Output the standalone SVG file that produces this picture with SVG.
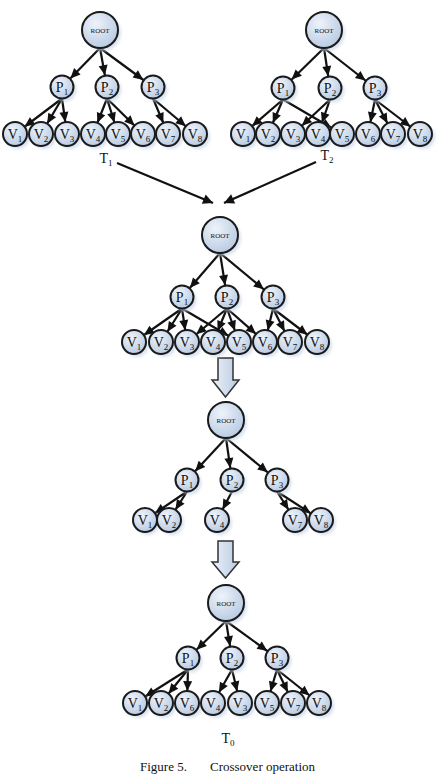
<svg xmlns="http://www.w3.org/2000/svg" width="438" height="778" viewBox="0 0 438 778">
<defs>
<radialGradient id="gn" cx="38%" cy="32%" r="75%">
<stop offset="0" stop-color="#EEF3FA"/>
<stop offset="1" stop-color="#B5C8E1"/>
</radialGradient>
<linearGradient id="ga" x1="0" y1="0" x2="1" y2="0">
<stop offset="0" stop-color="#EDF2F9"/>
<stop offset="1" stop-color="#B7CAE2"/>
</linearGradient>
<filter id="blur" x="-50%" y="-50%" width="200%" height="200%">
<feGaussianBlur stdDeviation="1.5"/>
</filter>
<marker id="ah" markerUnits="userSpaceOnUse" viewBox="-11 -5 25 10" markerWidth="25" markerHeight="10" refX="12" refY="0" orient="auto" overflow="visible">
<path d="M-10,-4.5 L0,0 L-10,4.5 z" fill="#111"/>
</marker>
<marker id="ah0" markerUnits="userSpaceOnUse" viewBox="-11 -5 12 10" markerWidth="12" markerHeight="10" refX="0" refY="0" orient="auto" overflow="visible">
<path d="M-10,-5 L0,0 L-10,5 z" fill="#111"/>
</marker>
</defs>
<style>
.e line{stroke:#111;stroke-width:2.2;marker-end:url(#ah)}
.d line{stroke:#111;stroke-width:2.2;marker-end:url(#ah0)}
.sh{fill:#C9D7EA;opacity:0.7;filter:url(#blur)}
.nd{fill:url(#gn);stroke:#1a1a1a;stroke-width:2}
.rt{font-family:"Liberation Serif",serif;font-size:7px;fill:#111;text-anchor:middle}
.lb{font-family:"Liberation Serif",serif;font-size:14px;fill:#111;text-anchor:middle}
.s{font-size:9px}
.cap{font-family:"Liberation Serif",serif;font-size:13px;fill:#111}
.ba{fill:url(#ga);stroke:#333;stroke-width:1.5;stroke-linejoin:miter}
</style>
<rect width="438" height="778" fill="#fff"/>

<g id="connectors">
<g class="e">
<line x1="100" y1="48" x2="62" y2="87"/>
<line x1="100" y1="48" x2="107" y2="87"/>
<line x1="100" y1="48" x2="153" y2="87"/>
<line x1="62" y1="98.5" x2="15" y2="134"/>
<line x1="62" y1="98.5" x2="41" y2="134"/>
<line x1="62" y1="98.5" x2="67" y2="134"/>
<line x1="107" y1="98.5" x2="93" y2="134"/>
<line x1="107" y1="98.5" x2="118" y2="134"/>
<line x1="107" y1="98.5" x2="143" y2="134"/>
<line x1="153" y1="98.5" x2="168" y2="134"/>
<line x1="153" y1="98.5" x2="195" y2="134"/>
<line x1="324" y1="48" x2="283" y2="88"/>
<line x1="324" y1="48" x2="330" y2="88"/>
<line x1="324" y1="48" x2="375" y2="88"/>
<line x1="283" y1="99.5" x2="243" y2="134"/>
<line x1="283" y1="99.5" x2="268" y2="134"/>
<line x1="283" y1="99.5" x2="342" y2="134"/>
<line x1="330" y1="99.5" x2="293" y2="134"/>
<line x1="330" y1="99.5" x2="318" y2="134"/>
<line x1="375" y1="99.5" x2="368" y2="134"/>
<line x1="375" y1="99.5" x2="393" y2="134"/>
<line x1="375" y1="99.5" x2="420" y2="134"/>
<line x1="220" y1="253" x2="182" y2="297"/>
<line x1="220" y1="253" x2="227" y2="297"/>
<line x1="220" y1="253" x2="273" y2="297"/>
<line x1="182" y1="308.5" x2="134" y2="342"/>
<line x1="182" y1="308.5" x2="161" y2="342"/>
<line x1="182" y1="308.5" x2="187" y2="342"/>
<line x1="182" y1="308.5" x2="239" y2="342"/>
<line x1="227" y1="308.5" x2="187" y2="342"/>
<line x1="227" y1="308.5" x2="213" y2="342"/>
<line x1="227" y1="308.5" x2="239" y2="342"/>
<line x1="227" y1="308.5" x2="265" y2="342"/>
<line x1="273" y1="308.5" x2="265" y2="342"/>
<line x1="273" y1="308.5" x2="290" y2="342"/>
<line x1="273" y1="308.5" x2="317" y2="342"/>
<line x1="226" y1="438" x2="187" y2="480"/>
<line x1="226" y1="438" x2="232" y2="480"/>
<line x1="226" y1="438" x2="277" y2="480"/>
<line x1="187" y1="491.5" x2="145" y2="520"/>
<line x1="187" y1="491.5" x2="169" y2="520"/>
<line x1="232" y1="491.5" x2="217" y2="520"/>
<line x1="277" y1="491.5" x2="295" y2="520"/>
<line x1="277" y1="491.5" x2="321" y2="520"/>
<line x1="226" y1="621" x2="188" y2="658"/>
<line x1="226" y1="621" x2="232" y2="658"/>
<line x1="226" y1="621" x2="277" y2="658"/>
<line x1="188" y1="669.5" x2="135" y2="703"/>
<line x1="188" y1="669.5" x2="161" y2="703"/>
<line x1="188" y1="669.5" x2="187" y2="703"/>
<line x1="232" y1="669.5" x2="213" y2="703"/>
<line x1="232" y1="669.5" x2="240" y2="703"/>
<line x1="277" y1="669.5" x2="267" y2="703"/>
<line x1="277" y1="669.5" x2="293" y2="703"/>
<line x1="277" y1="669.5" x2="319" y2="703"/>
</g>
<g class="d">
<line x1="117" y1="163" x2="213" y2="203"/>
<line x1="316" y1="162" x2="224" y2="203"/>
</g>
<polygon class="ba" points="218,358 233,358 233,380 239,380 225.5,397 212,380 218,380"/>
<polygon class="ba" points="218,541 233,541 233,562 239,562 225.5,578 212,562 218,562"/>
</g>

<g id="t1-root"><circle class="sh" cx="103" cy="33" r="18"/><circle class="nd" cx="100" cy="30" r="18"/><text class="rt" x="100" y="32.5">ROOT</text></g>
<g id="t1-p1"><circle class="sh" cx="65" cy="90" r="11.5"/><circle class="nd" cx="62" cy="87" r="11.5"/><text class="lb" x="62" y="91.5">P<tspan class="s" dy="3">1</tspan></text></g>
<g id="t1-p2"><circle class="sh" cx="110" cy="90" r="11.5"/><circle class="nd" cx="107" cy="87" r="11.5"/><text class="lb" x="107" y="91.5">P<tspan class="s" dy="3">2</tspan></text></g>
<g id="t1-p3"><circle class="sh" cx="156" cy="90" r="11.5"/><circle class="nd" cx="153" cy="87" r="11.5"/><text class="lb" x="153" y="91.5">P<tspan class="s" dy="3">3</tspan></text></g>
<g id="t1-v1"><circle class="sh" cx="18" cy="137" r="12"/><circle class="nd" cx="15" cy="134" r="12"/><text class="lb" x="15" y="138.5">V<tspan class="s" dy="3">1</tspan></text></g>
<g id="t1-v2"><circle class="sh" cx="44" cy="137" r="12"/><circle class="nd" cx="41" cy="134" r="12"/><text class="lb" x="41" y="138.5">V<tspan class="s" dy="3">2</tspan></text></g>
<g id="t1-v3"><circle class="sh" cx="70" cy="137" r="12"/><circle class="nd" cx="67" cy="134" r="12"/><text class="lb" x="67" y="138.5">V<tspan class="s" dy="3">3</tspan></text></g>
<g id="t1-v4"><circle class="sh" cx="96" cy="137" r="12"/><circle class="nd" cx="93" cy="134" r="12"/><text class="lb" x="93" y="138.5">V<tspan class="s" dy="3">4</tspan></text></g>
<g id="t1-v5"><circle class="sh" cx="121" cy="137" r="12"/><circle class="nd" cx="118" cy="134" r="12"/><text class="lb" x="118" y="138.5">V<tspan class="s" dy="3">5</tspan></text></g>
<g id="t1-v6"><circle class="sh" cx="146" cy="137" r="12"/><circle class="nd" cx="143" cy="134" r="12"/><text class="lb" x="143" y="138.5">V<tspan class="s" dy="3">6</tspan></text></g>
<g id="t1-v7"><circle class="sh" cx="171" cy="137" r="12"/><circle class="nd" cx="168" cy="134" r="12"/><text class="lb" x="168" y="138.5">V<tspan class="s" dy="3">7</tspan></text></g>
<g id="t1-v8"><circle class="sh" cx="198" cy="137" r="12"/><circle class="nd" cx="195" cy="134" r="12"/><text class="lb" x="195" y="138.5">V<tspan class="s" dy="3">8</tspan></text></g>
<g id="t1-label"><text class="lb" x="106" y="163">T<tspan class="s" dy="3">1</tspan></text></g>

<g id="t2-root"><circle class="sh" cx="327" cy="33" r="18"/><circle class="nd" cx="324" cy="30" r="18"/><text class="rt" x="324" y="32.5">ROOT</text></g>
<g id="t2-p1"><circle class="sh" cx="286" cy="91" r="11.5"/><circle class="nd" cx="283" cy="88" r="11.5"/><text class="lb" x="283" y="92.5">P<tspan class="s" dy="3">1</tspan></text></g>
<g id="t2-p2"><circle class="sh" cx="333" cy="91" r="11.5"/><circle class="nd" cx="330" cy="88" r="11.5"/><text class="lb" x="330" y="92.5">P<tspan class="s" dy="3">2</tspan></text></g>
<g id="t2-p3"><circle class="sh" cx="378" cy="91" r="11.5"/><circle class="nd" cx="375" cy="88" r="11.5"/><text class="lb" x="375" y="92.5">P<tspan class="s" dy="3">3</tspan></text></g>
<g id="t2-v1"><circle class="sh" cx="246" cy="137" r="12"/><circle class="nd" cx="243" cy="134" r="12"/><text class="lb" x="243" y="138.5">V<tspan class="s" dy="3">1</tspan></text></g>
<g id="t2-v2"><circle class="sh" cx="271" cy="137" r="12"/><circle class="nd" cx="268" cy="134" r="12"/><text class="lb" x="268" y="138.5">V<tspan class="s" dy="3">2</tspan></text></g>
<g id="t2-v3"><circle class="sh" cx="296" cy="137" r="12"/><circle class="nd" cx="293" cy="134" r="12"/><text class="lb" x="293" y="138.5">V<tspan class="s" dy="3">3</tspan></text></g>
<g id="t2-v4"><circle class="sh" cx="321" cy="137" r="12"/><circle class="nd" cx="318" cy="134" r="12"/><text class="lb" x="318" y="138.5">V<tspan class="s" dy="3">4</tspan></text></g>
<g id="t2-v5"><circle class="sh" cx="345" cy="137" r="12"/><circle class="nd" cx="342" cy="134" r="12"/><text class="lb" x="342" y="138.5">V<tspan class="s" dy="3">5</tspan></text></g>
<g id="t2-v6"><circle class="sh" cx="371" cy="137" r="12"/><circle class="nd" cx="368" cy="134" r="12"/><text class="lb" x="368" y="138.5">V<tspan class="s" dy="3">6</tspan></text></g>
<g id="t2-v7"><circle class="sh" cx="396" cy="137" r="12"/><circle class="nd" cx="393" cy="134" r="12"/><text class="lb" x="393" y="138.5">V<tspan class="s" dy="3">7</tspan></text></g>
<g id="t2-v8"><circle class="sh" cx="423" cy="137" r="12"/><circle class="nd" cx="420" cy="134" r="12"/><text class="lb" x="420" y="138.5">V<tspan class="s" dy="3">8</tspan></text></g>
<g id="t2-label"><text class="lb" x="327" y="160">T<tspan class="s" dy="3">2</tspan></text></g>

<g id="t3-root"><circle class="sh" cx="223" cy="238" r="18"/><circle class="nd" cx="220" cy="235" r="18"/><text class="rt" x="220" y="237.5">ROOT</text></g>
<g id="t3-p1"><circle class="sh" cx="185" cy="300" r="11.5"/><circle class="nd" cx="182" cy="297" r="11.5"/><text class="lb" x="182" y="301.5">P<tspan class="s" dy="3">1</tspan></text></g>
<g id="t3-p2"><circle class="sh" cx="230" cy="300" r="11.5"/><circle class="nd" cx="227" cy="297" r="11.5"/><text class="lb" x="227" y="301.5">P<tspan class="s" dy="3">2</tspan></text></g>
<g id="t3-p3"><circle class="sh" cx="276" cy="300" r="11.5"/><circle class="nd" cx="273" cy="297" r="11.5"/><text class="lb" x="273" y="301.5">P<tspan class="s" dy="3">3</tspan></text></g>
<g id="t3-v1"><circle class="sh" cx="137" cy="345" r="12"/><circle class="nd" cx="134" cy="342" r="12"/><text class="lb" x="134" y="346.5">V<tspan class="s" dy="3">1</tspan></text></g>
<g id="t3-v2"><circle class="sh" cx="164" cy="345" r="12"/><circle class="nd" cx="161" cy="342" r="12"/><text class="lb" x="161" y="346.5">V<tspan class="s" dy="3">2</tspan></text></g>
<g id="t3-v3"><circle class="sh" cx="190" cy="345" r="12"/><circle class="nd" cx="187" cy="342" r="12"/><text class="lb" x="187" y="346.5">V<tspan class="s" dy="3">3</tspan></text></g>
<g id="t3-v4"><circle class="sh" cx="216" cy="345" r="12"/><circle class="nd" cx="213" cy="342" r="12"/><text class="lb" x="213" y="346.5">V<tspan class="s" dy="3">4</tspan></text></g>
<g id="t3-v5"><circle class="sh" cx="242" cy="345" r="12"/><circle class="nd" cx="239" cy="342" r="12"/><text class="lb" x="239" y="346.5">V<tspan class="s" dy="3">5</tspan></text></g>
<g id="t3-v6"><circle class="sh" cx="268" cy="345" r="12"/><circle class="nd" cx="265" cy="342" r="12"/><text class="lb" x="265" y="346.5">V<tspan class="s" dy="3">6</tspan></text></g>
<g id="t3-v7"><circle class="sh" cx="293" cy="345" r="12"/><circle class="nd" cx="290" cy="342" r="12"/><text class="lb" x="290" y="346.5">V<tspan class="s" dy="3">7</tspan></text></g>
<g id="t3-v8"><circle class="sh" cx="320" cy="345" r="12"/><circle class="nd" cx="317" cy="342" r="12"/><text class="lb" x="317" y="346.5">V<tspan class="s" dy="3">8</tspan></text></g>

<g id="t4-root"><circle class="sh" cx="229" cy="423" r="18"/><circle class="nd" cx="226" cy="420" r="18"/><text class="rt" x="226" y="422.5">ROOT</text></g>
<g id="t4-p1"><circle class="sh" cx="190" cy="483" r="11.5"/><circle class="nd" cx="187" cy="480" r="11.5"/><text class="lb" x="187" y="484.5">P<tspan class="s" dy="3">1</tspan></text></g>
<g id="t4-p2"><circle class="sh" cx="235" cy="483" r="11.5"/><circle class="nd" cx="232" cy="480" r="11.5"/><text class="lb" x="232" y="484.5">P<tspan class="s" dy="3">2</tspan></text></g>
<g id="t4-p3"><circle class="sh" cx="280" cy="483" r="11.5"/><circle class="nd" cx="277" cy="480" r="11.5"/><text class="lb" x="277" y="484.5">P<tspan class="s" dy="3">3</tspan></text></g>
<g id="t4-v1"><circle class="sh" cx="148" cy="523" r="12"/><circle class="nd" cx="145" cy="520" r="12"/><text class="lb" x="145" y="524.5">V<tspan class="s" dy="3">1</tspan></text></g>
<g id="t4-v2"><circle class="sh" cx="172" cy="523" r="12"/><circle class="nd" cx="169" cy="520" r="12"/><text class="lb" x="169" y="524.5">V<tspan class="s" dy="3">2</tspan></text></g>
<g id="t4-v4"><circle class="sh" cx="220" cy="523" r="12"/><circle class="nd" cx="217" cy="520" r="12"/><text class="lb" x="217" y="524.5">V<tspan class="s" dy="3">4</tspan></text></g>
<g id="t4-v7"><circle class="sh" cx="298" cy="523" r="12"/><circle class="nd" cx="295" cy="520" r="12"/><text class="lb" x="295" y="524.5">V<tspan class="s" dy="3">7</tspan></text></g>
<g id="t4-v8"><circle class="sh" cx="324" cy="523" r="12"/><circle class="nd" cx="321" cy="520" r="12"/><text class="lb" x="321" y="524.5">V<tspan class="s" dy="3">8</tspan></text></g>

<g id="t5-root"><circle class="sh" cx="229" cy="606" r="18"/><circle class="nd" cx="226" cy="603" r="18"/><text class="rt" x="226" y="605.5">ROOT</text></g>
<g id="t5-p1"><circle class="sh" cx="191" cy="661" r="11.5"/><circle class="nd" cx="188" cy="658" r="11.5"/><text class="lb" x="188" y="662.5">P<tspan class="s" dy="3">1</tspan></text></g>
<g id="t5-p2"><circle class="sh" cx="235" cy="661" r="11.5"/><circle class="nd" cx="232" cy="658" r="11.5"/><text class="lb" x="232" y="662.5">P<tspan class="s" dy="3">2</tspan></text></g>
<g id="t5-p3"><circle class="sh" cx="280" cy="661" r="11.5"/><circle class="nd" cx="277" cy="658" r="11.5"/><text class="lb" x="277" y="662.5">P<tspan class="s" dy="3">3</tspan></text></g>
<g id="t5-v1"><circle class="sh" cx="138" cy="706" r="12"/><circle class="nd" cx="135" cy="703" r="12"/><text class="lb" x="135" y="707.5">V<tspan class="s" dy="3">1</tspan></text></g>
<g id="t5-v2"><circle class="sh" cx="164" cy="706" r="12"/><circle class="nd" cx="161" cy="703" r="12"/><text class="lb" x="161" y="707.5">V<tspan class="s" dy="3">2</tspan></text></g>
<g id="t5-v6"><circle class="sh" cx="190" cy="706" r="12"/><circle class="nd" cx="187" cy="703" r="12"/><text class="lb" x="187" y="707.5">V<tspan class="s" dy="3">6</tspan></text></g>
<g id="t5-v4"><circle class="sh" cx="216" cy="706" r="12"/><circle class="nd" cx="213" cy="703" r="12"/><text class="lb" x="213" y="707.5">V<tspan class="s" dy="3">4</tspan></text></g>
<g id="t5-v3"><circle class="sh" cx="243" cy="706" r="12"/><circle class="nd" cx="240" cy="703" r="12"/><text class="lb" x="240" y="707.5">V<tspan class="s" dy="3">3</tspan></text></g>
<g id="t5-v5"><circle class="sh" cx="270" cy="706" r="12"/><circle class="nd" cx="267" cy="703" r="12"/><text class="lb" x="267" y="707.5">V<tspan class="s" dy="3">5</tspan></text></g>
<g id="t5-v7"><circle class="sh" cx="296" cy="706" r="12"/><circle class="nd" cx="293" cy="703" r="12"/><text class="lb" x="293" y="707.5">V<tspan class="s" dy="3">7</tspan></text></g>
<g id="t5-v8"><circle class="sh" cx="322" cy="706" r="12"/><circle class="nd" cx="319" cy="703" r="12"/><text class="lb" x="319" y="707.5">V<tspan class="s" dy="3">8</tspan></text></g>
<g id="t0-label"><text class="lb" x="228" y="743">T<tspan class="s" dy="3">0</tspan></text></g>

<g id="caption">
<text class="cap" x="140" y="771">Figure 5.</text>
<text class="cap" x="210" y="771">Crossover operation</text>
</g>
</svg>
